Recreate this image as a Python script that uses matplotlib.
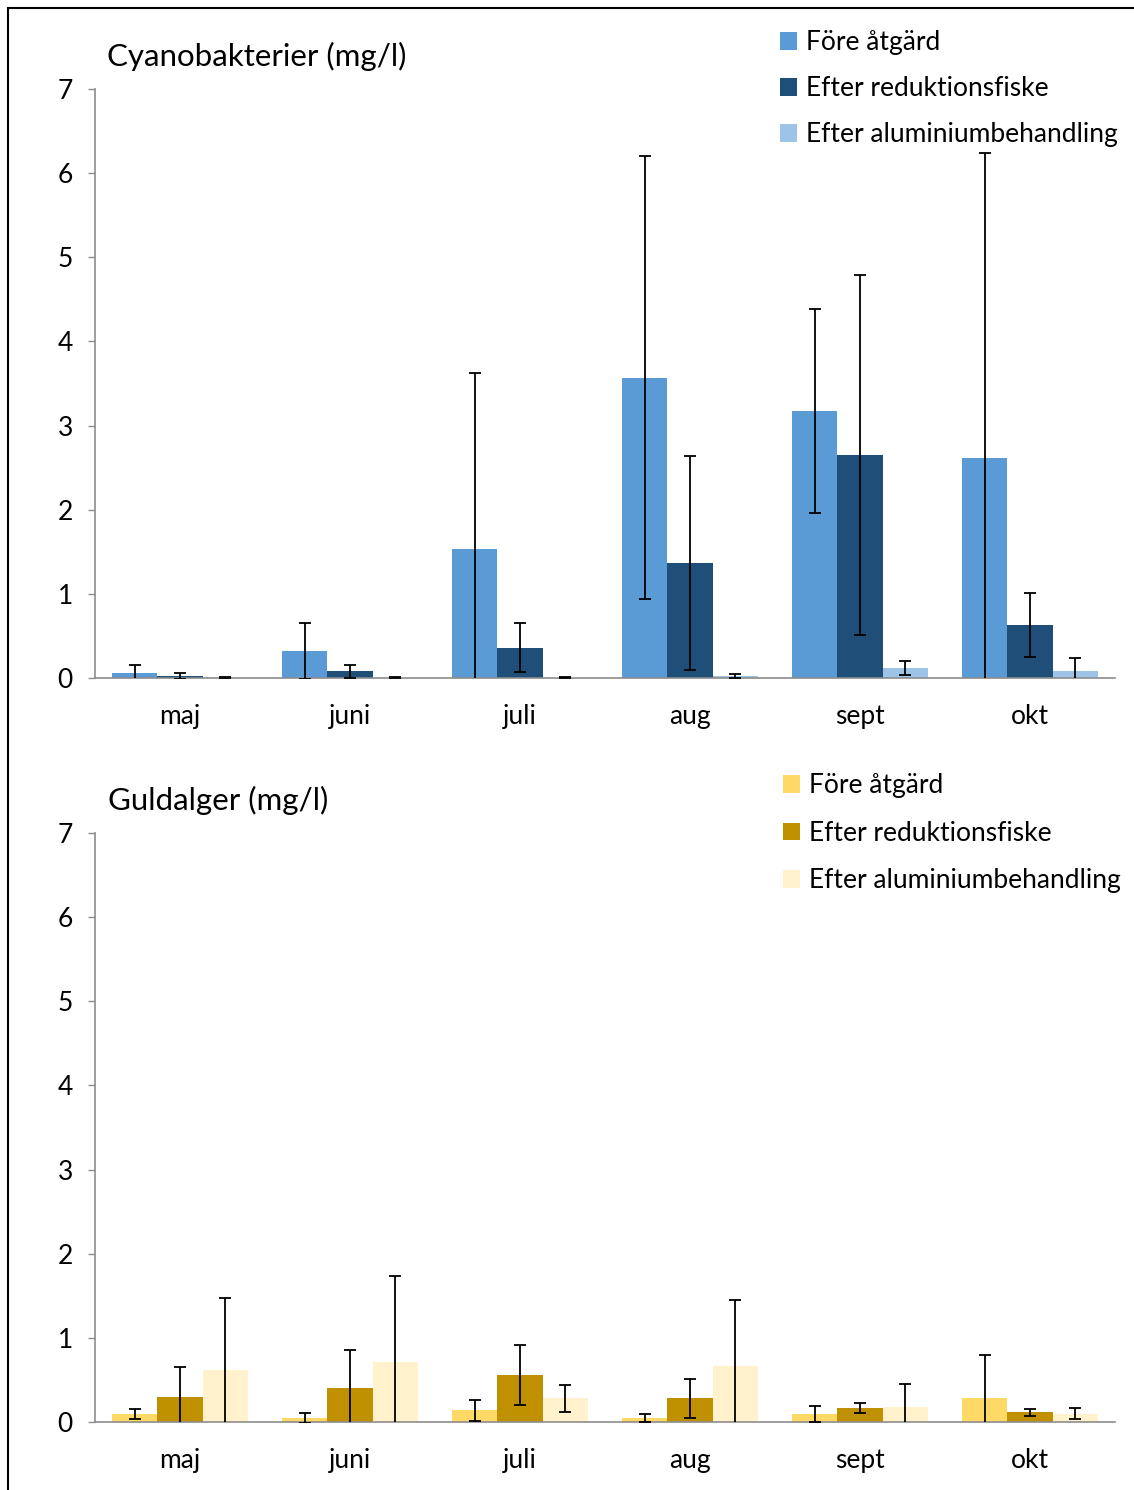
import numpy as np
import matplotlib.pyplot as plt
from matplotlib.patches import Rectangle

plt.rcParams['font.family'] = ['Lato', 'DejaVu Sans']

months = ['maj', 'juni', 'juli', 'aug', 'sept', 'okt']
series = ['Före åtgärd', 'Efter reduktionsfiske', 'Efter aluminiumbehandling']

# Cyanobakterier (mg/l): medel och felstaplar
cyano_fore = [0.06, 0.32, 1.53, 3.57, 3.17, 2.61]
cyano_fore_err = [0.09, 0.33, 2.09, 2.63, 1.21, 3.63]
cyano_red = [0.025, 0.08, 0.36, 1.37, 2.65, 0.63]
cyano_red_err = [0.035, 0.08, 0.29, 1.27, 2.14, 0.38]
cyano_alu = [0.005, 0.005, 0.005, 0.025, 0.12, 0.085]
cyano_alu_err = [0.012, 0.012, 0.01, 0.022, 0.085, 0.15]

# Guldalger (mg/l)
guld_fore = [0.095, 0.05, 0.14, 0.05, 0.095, 0.28]
guld_fore_err = [0.055, 0.06, 0.125, 0.05, 0.095, 0.52]
guld_red = [0.30, 0.41, 0.56, 0.28, 0.165, 0.115]
guld_red_err = [0.35, 0.45, 0.355, 0.235, 0.055, 0.045]
guld_alu = [0.62, 0.71, 0.28, 0.66, 0.18, 0.10]
guld_alu_err = [0.85, 1.03, 0.16, 0.79, 0.27, 0.065]

blues = ['#5B9BD5', '#1F4E79', '#9DC3E6']
golds = ['#FFD966', '#BF9000', '#FFF2CC']

W, H = 1134, 1490
fig = plt.figure(figsize=(W / 100, H / 100), dpi=100)

# ram runt figuren
fig.add_artist(Rectangle((8 / W, -0.05), 1.2, 1 - 8 / H + 0.05,
                         transform=fig.transFigure, fill=False,
                         edgecolor='black', linewidth=1.5, clip_on=False))


def panel(rect, title, title_pos, vals, errs, colors, leg_pos, leg_spacing):
    ax = fig.add_axes(rect)
    x = np.arange(len(months))
    bw = 0.265
    handles = []
    for i, (v, e, c, lab) in enumerate(zip(vals, errs, colors, series)):
        xs = x + (i - 1) * bw
        b = ax.bar(xs, v, width=bw, color=c, label=lab, zorder=2)
        handles.append(b)
        ax.errorbar(xs, v, yerr=e, fmt='none', ecolor='black',
                    elinewidth=1.3, capsize=4.5, capthick=1.3, zorder=3)
    ax.set_xlim(-0.5, len(months) - 0.5)
    ax.set_ylim(0, 7)
    ax.set_yticks(range(8))
    ax.set_xticks(x)
    ax.set_xticklabels(months)
    for s in ['top', 'right']:
        ax.spines[s].set_visible(False)
    for s in ['left', 'bottom']:
        ax.spines[s].set_color('#8C8C8C')
        ax.spines[s].set_linewidth(1.2)
    ax.tick_params(axis='y', length=5, color='#8C8C8C', width=1.0,
                   labelsize=19, pad=11)
    ax.tick_params(axis='x', length=0, labelsize=19, pad=19)
    fig.text(title_pos[0] / W, 1 - title_pos[1] / H, title,
             fontsize=22.5, va='center', ha='left')
    ax.legend(handles=handles, loc='upper left',
              bbox_to_anchor=(leg_pos[0] / W, 1 - leg_pos[1] / H),
              bbox_transform=fig.transFigure, frameon=False, fontsize=19,
              handlelength=0.65, handleheight=0.65, handletextpad=0.35,
              labelspacing=leg_spacing, borderaxespad=0, borderpad=0)
    return ax


panel([95 / W, 1 - 678 / H, 1020 / W, 589 / H], 'Cyanobakterier (mg/l)',
      (107, 56), [cyano_fore, cyano_red, cyano_alu],
      [cyano_fore_err, cyano_red_err, cyano_alu_err], blues, (780, 30), 0.8)
panel([95 / W, 1 - 1422 / H, 1020 / W, 589 / H], 'Guldalger (mg/l)',
      (108, 800), [guld_fore, guld_red, guld_alu],
      [guld_fore_err, guld_red_err, guld_alu_err], golds, (783, 773), 0.86)

fig.savefig('out.png', dpi=100)
